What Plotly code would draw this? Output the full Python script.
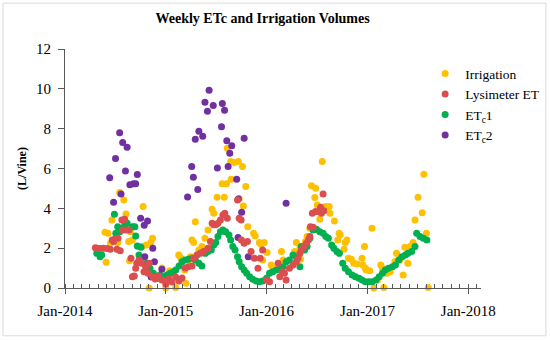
import plotly.graph_objects as go

# ---------------- data ----------------
irr_dates = [
    "2014-05-26", "2014-05-30", "2014-06-06", "2014-06-15", "2014-06-20", "2014-07-11",
    "2014-07-18", "2014-08-02", "2014-08-10", "2014-08-20", "2014-08-23", "2014-08-26",
    "2014-09-02", "2014-09-23", "2014-10-08", "2014-10-11", "2014-10-22", "2014-10-23",
    "2014-11-02", "2014-11-08", "2014-11-14", "2014-12-18", "2015-01-01", "2015-01-09",
    "2015-01-15", "2015-01-27", "2015-02-06", "2015-02-17", "2015-02-24", "2015-03-11",
    "2015-03-15", "2015-03-23", "2015-04-01", "2015-04-06", "2015-04-12", "2015-04-18",
    "2015-05-01", "2015-05-12", "2015-05-23", "2015-06-03", "2015-06-18", "2015-06-24",
    "2015-07-06", "2015-07-24", "2015-08-01", "2015-08-09", "2015-08-12", "2015-08-24",
    "2015-08-26", "2015-09-06", "2015-09-21", "2015-09-24", "2015-10-06", "2015-10-09",
    "2015-10-18", "2015-10-25", "2015-11-15", "2015-11-21", "2015-12-06", "2015-12-12",
    "2015-12-18", "2015-12-24", "2016-01-03", "2016-01-18", "2016-01-24", "2016-02-18",
    "2016-02-24", "2016-03-01", "2016-04-12", "2016-04-18", "2016-05-01", "2016-05-03",
    "2016-05-21", "2016-05-27", "2016-06-06", "2016-06-12", "2016-06-24", "2016-06-27",
    "2016-07-03", "2016-07-12", "2016-07-21", "2016-08-01", "2016-08-15", "2016-08-18",
    "2016-09-03", "2016-09-15", "2016-09-20", "2016-09-24", "2016-10-08", "2016-10-12",
    "2016-10-18", "2016-10-24", "2016-11-03", "2016-11-12", "2016-11-24", "2016-12-12",
    "2016-12-15", "2016-12-21", "2016-12-24", "2016-12-27", "2017-01-09", "2017-01-17",
    "2017-01-24", "2017-02-06", "2017-02-18", "2017-02-24", "2017-03-01", "2017-03-12",
    "2017-03-24", "2017-04-10", "2017-04-16", "2017-04-28", "2017-05-10", "2017-05-16",
    "2017-05-27", "2017-06-04", "2017-06-15", "2017-06-22", "2017-07-03", "2017-07-18",
    "2017-07-24", "2017-08-02", "2017-08-09",
]
irr_vals = [
    2.80, 1.29, 2.75, 2.25, 3.42, 2.28,
    4.79, 4.42, 3.72, 2.33, 1.37, 2.83,
    2.41, 2.08, 2.08, 4.09, 2.16, 1.07,
    0.00, 2.28, 2.50, 1.00, 0.00, 0.45,
    0.87, 0.74, 0.02, 1.66, 1.52, 0.90,
    0.24, 1.41, 1.57, 2.41, 2.28, 3.33,
    1.91, 2.08, 2.50, 2.91, 3.95, 3.75,
    4.56, 5.23, 4.56, 5.23, 7.02, 6.35,
    5.46, 6.30, 6.35, 4.50, 6.10, 4.12,
    5.09, 3.08, 2.75, 2.61, 2.28, 2.20,
    1.41, 2.28, 1.78, 1.16, 0.99, 0.99,
    1.83, 1.41, 1.83, 2.28, 2.00, 1.44,
    2.33, 2.58, 3.00, 5.13, 4.54, 5.01,
    4.17, 3.45, 6.35, 4.09, 4.09, 3.75,
    3.37, 2.41, 2.75, 2.66, 1.94, 2.28,
    2.41, 1.49, 1.44, 1.24, 1.21, 1.49,
    1.16, 2.08, 0.99, 0.90, 0.87, 3.00,
    0.00, 0.40, 1.16, 0.99, 0.03, 0.74,
    0.82, 1.32, 1.74, 1.41, 0.65, 2.04,
    1.24, 2.08, 2.28, 3.42, 4.56, 3.78,
    5.71, 2.75, 0.03,
]

lys_dates = [
    "2014-04-21", "2014-04-27", "2014-05-08", "2014-05-20", "2014-06-02", "2014-06-14",
    "2014-06-21", "2014-06-26", "2014-07-03", "2014-07-08", "2014-07-12", "2014-07-20",
    "2014-07-26", "2014-07-28", "2014-08-05", "2014-08-09", "2014-08-21", "2014-08-28",
    "2014-09-02", "2014-09-09", "2014-09-14", "2014-09-18", "2014-09-26", "2014-10-06",
    "2014-10-14", "2014-10-20", "2014-10-29", "2014-11-02", "2014-11-14", "2014-11-24",
    "2014-12-06", "2014-12-18", "2015-01-01", "2015-01-12", "2015-01-24", "2015-02-06",
    "2015-02-18", "2015-03-01", "2015-03-12", "2015-03-24", "2015-04-06", "2015-04-12",
    "2015-04-24", "2015-05-06", "2015-05-18", "2015-06-03", "2015-06-12", "2015-06-18",
    "2015-06-24", "2015-07-01", "2015-07-09", "2015-07-18", "2015-07-27", "2015-08-03",
    "2015-08-12", "2015-09-18", "2015-09-24", "2015-10-01", "2015-10-02", "2015-10-12",
    "2015-10-24", "2015-11-06", "2015-11-18", "2015-12-01", "2015-12-09", "2015-12-18",
    "2016-01-01", "2016-01-12", "2016-02-12", "2016-02-18", "2016-02-27", "2016-03-06",
    "2016-03-12", "2016-03-24", "2016-04-06", "2016-04-18", "2016-04-24", "2016-05-01",
    "2016-05-06", "2016-05-15", "2016-05-24", "2016-06-01", "2016-06-06", "2016-06-08",
    "2016-06-15", "2016-06-18", "2016-06-27", "2016-07-06", "2016-07-15", "2016-07-18",
    "2016-07-24", "2016-07-27",
]
lys_vals = [
    2.02, 2.00, 1.98, 2.00, 1.98, 1.95,
    2.41, 2.33, 2.50, 1.95, 2.50, 1.87,
    3.42, 2.91, 3.45, 2.91, 2.91, 1.49,
    0.57, 0.60, 0.99, 1.24, 1.41, 1.24,
    0.82, 1.07, 0.74, 1.24, 0.57, 0.45,
    0.60, 0.40, 0.20, 0.45, 0.30, 0.55,
    0.35, 0.50, 1.00, 1.07, 1.10, 1.49,
    1.66, 1.74, 1.83, 2.00, 2.33, 3.25,
    3.17, 3.17, 3.25, 3.42, 3.67, 3.75,
    3.50, 4.42, 3.50, 3.42, 2.41, 2.25,
    2.33, 1.83, 1.49, 0.99, 1.49, 1.91,
    0.40, 0.32, 1.24, 0.57, 0.82, 0.74,
    0.40, 0.99, 1.16, 1.32, 1.49, 1.74,
    1.91, 2.08, 2.25, 2.41, 2.58, 3.08,
    3.75, 3.05, 3.84, 3.84, 4.05, 3.75,
    4.72, 3.88,
]

etc1_dates = [
    "2014-04-26", "2014-05-08", "2014-05-14", "2014-06-29", "2014-07-04", "2014-07-11",
    "2014-07-18", "2014-07-26", "2014-08-06", "2014-08-14", "2014-09-02", "2014-09-11",
    "2014-09-14", "2014-09-20", "2014-09-26", "2014-10-03", "2014-10-23", "2014-11-05",
    "2014-11-17", "2014-11-23", "2014-12-02", "2014-12-11", "2014-12-23", "2015-01-05",
    "2015-01-17", "2015-01-29", "2015-02-06", "2015-02-18", "2015-03-01", "2015-03-12",
    "2015-03-24", "2015-04-06", "2015-04-18", "2015-05-01", "2015-05-12", "2015-05-24",
    "2015-06-03", "2015-06-15", "2015-06-24", "2015-07-01", "2015-07-09", "2015-07-18",
    "2015-07-27", "2015-08-06", "2015-08-18", "2015-08-24", "2015-09-01", "2015-09-09",
    "2015-09-18", "2015-09-24", "2015-10-03", "2015-10-12", "2015-10-21", "2015-11-01",
    "2015-11-12", "2015-11-24", "2015-12-06", "2015-12-18", "2016-01-01", "2016-01-12",
    "2016-01-24", "2016-02-06", "2016-02-18", "2016-03-01", "2016-03-12", "2016-03-24",
    "2016-04-06", "2016-04-18", "2016-05-01", "2016-05-06", "2016-05-18", "2016-05-27",
    "2016-06-06", "2016-06-18", "2016-06-30", "2016-07-12", "2016-07-24", "2016-08-03",
    "2016-08-12", "2016-08-24", "2016-09-01", "2016-09-12", "2016-09-21", "2016-10-03",
    "2016-10-12", "2016-10-24", "2016-11-06", "2016-11-18", "2016-12-01", "2016-12-12",
    "2016-12-24", "2017-01-06", "2017-01-18", "2017-02-01", "2017-02-12", "2017-02-24",
    "2017-03-06", "2017-03-18", "2017-04-01", "2017-04-12", "2017-04-24", "2017-05-06",
    "2017-05-18", "2017-05-27", "2017-06-10", "2017-06-22", "2017-06-28", "2017-07-10",
    "2017-07-22", "2017-08-04",
]
etc1_vals = [
    1.74, 1.57, 1.66, 3.70, 2.75, 3.08,
    2.83, 3.00, 3.20, 3.25, 3.08, 3.08,
    2.61, 2.11, 1.66, 2.04, 1.24, 0.99,
    0.74, 0.57, 0.49, 0.65, 0.57, 0.65,
    0.74, 0.82, 0.90, 1.10, 1.32, 1.41,
    1.44, 1.49, 1.41, 1.24, 1.10, 1.74,
    1.83, 1.91, 2.16, 2.28, 2.58, 2.83,
    2.91, 2.83, 2.66, 2.41, 2.08, 1.91,
    1.57, 1.32, 1.07, 0.90, 0.74, 0.57,
    0.44, 0.35, 0.32, 0.35, 0.49, 0.74,
    0.82, 0.90, 0.94, 1.07, 1.32, 1.41,
    1.66, 1.57, 1.07, 2.08, 1.91, 2.08,
    2.50, 2.91, 2.95, 2.83, 2.75, 2.58,
    2.50, 2.16, 2.00, 1.83, 1.74, 1.24,
    0.99, 0.82, 0.65, 0.57, 0.49, 0.40,
    0.32, 0.32, 0.32, 0.40, 0.57, 0.74,
    0.90, 0.99, 1.07, 1.16, 1.41, 1.57,
    1.66, 1.74, 1.83, 2.08, 2.75, 2.58,
    2.50, 2.41,
]

etc2_dates = [
    "2014-06-12", "2014-06-26", "2014-07-03", "2014-07-18", "2014-07-23", "2014-07-29",
    "2014-08-08", "2014-08-14", "2014-08-24", "2014-09-06", "2014-09-14", "2014-09-20",
    "2014-10-02", "2014-10-15", "2014-10-17", "2014-10-27", "2014-11-09", "2014-11-15",
    "2014-11-21", "2014-12-18", "2015-03-21", "2015-04-05", "2015-04-11", "2015-04-18",
    "2015-04-27", "2015-05-01", "2015-05-15", "2015-05-23", "2015-06-01", "2015-06-07",
    "2015-06-22", "2015-07-07", "2015-07-22", "2015-07-25", "2015-08-02", "2015-08-10",
    "2015-08-15", "2015-08-21", "2015-08-28", "2015-09-15", "2015-09-20", "2015-09-21",
    "2015-10-03", "2015-10-12", "2015-10-27", "2016-03-12",
]
etc2_vals = [
    5.54, 4.30, 6.50, 7.80, 4.72, 7.30,
    5.88, 7.07, 5.18, 5.23, 5.23, 5.70,
    3.50, 3.15, 1.57, 3.37, 0.55, 2.00,
    1.32, 0.94, 4.57, 6.10, 5.56, 7.47,
    4.94, 7.87, 7.62, 9.33, 8.88, 9.93,
    9.16, 6.03, 8.09, 9.26, 8.93, 7.39,
    6.10, 6.77, 7.14, 5.46, 2.53, 4.47,
    3.80, 7.52, 1.57, 4.25,
]

y_ticks = [0, 2, 4, 6, 8, 10, 12]

# ---------------- figure ----------------
FONT = "Liberation Serif, DejaVu Serif, serif"

fig = go.Figure()

def add(name, xs, ys, color, rank):
    fig.add_trace(go.Scatter(
        x=xs, y=ys, mode="markers", name=name, legendrank=rank,
        marker=dict(color=color, size=7, line=dict(width=0)),
        cliponaxis=False,
    ))

add("Irrigation", irr_dates, irr_vals, "#FFC000", 1)
add("ET<sub>c</sub>1", etc1_dates, etc1_vals, "#00B050", 3)
add("ET<sub>c</sub>2", etc2_dates, etc2_vals, "#7030A0", 4)
add("Lysimeter ET", lys_dates, lys_vals, "#DC4E4E", 2)

fig.update_layout(
    width=550, height=340,
    margin=dict(l=65, r=69, t=49, b=52, autoexpand=False),
    paper_bgcolor="white", plot_bgcolor="white",
    font=dict(family=FONT, size=15, color="black"),
    title=dict(text="<b>Weekly ETc and Irrigation Volumes</b>",
               x=0.475, xanchor="center", xref="paper", y=0.947, yanchor="middle",
               font=dict(family=FONT, size=14, color="black")),
    showlegend=True,
    legend=dict(xref="container", yref="container", x=0.773, y=0.829,
                xanchor="left", yanchor="top",
                bgcolor="rgba(0,0,0,0)", font=dict(family=FONT, size=13.5),
                tracegroupgap=0, itemsizing="trace"),
    xaxis=dict(
        type="date", range=["2014-01-01", "2018-02-16"], automargin=False,
        tickformat="%b-%Y", dtick="M12", tick0="2014-01-01",
        showgrid=False, zeroline=False,
        showline=True, linecolor="#595959", linewidth=1,
        ticks="outside", ticklen=5, tickcolor="#595959",
        ticklabelstandoff=4,
        minor=dict(ticks="inside", dtick="M1", ticklen=4, tickcolor="#595959", showgrid=False),
        tickfont=dict(family=FONT, size=15),
    ),
    yaxis=dict(
        range=[0, 12], tickvals=y_ticks, automargin=False,
        showgrid=False, zeroline=False,
        showline=True, linecolor="#595959", linewidth=1,
        ticks="outside", ticklen=6, tickcolor="#595959",
        ticklabelstandoff=4,
        tickfont=dict(family=FONT, size=15),
        title=dict(text="<b>(L/Vine)</b>", font=dict(family=FONT, size=12), standoff=6),
    ),
    shapes=[dict(type="rect", xref="paper", yref="paper",
                 x0=-0.149, x1=1.156, y0=-0.2, y1=1.192,
                 line=dict(color="#d9d9d9", width=1), fillcolor="rgba(0,0,0,0)", layer="below")],
)

fig.write_html("out.html", config={"displayModeBar": False},
               post_script="document.body.style.margin='0';")
